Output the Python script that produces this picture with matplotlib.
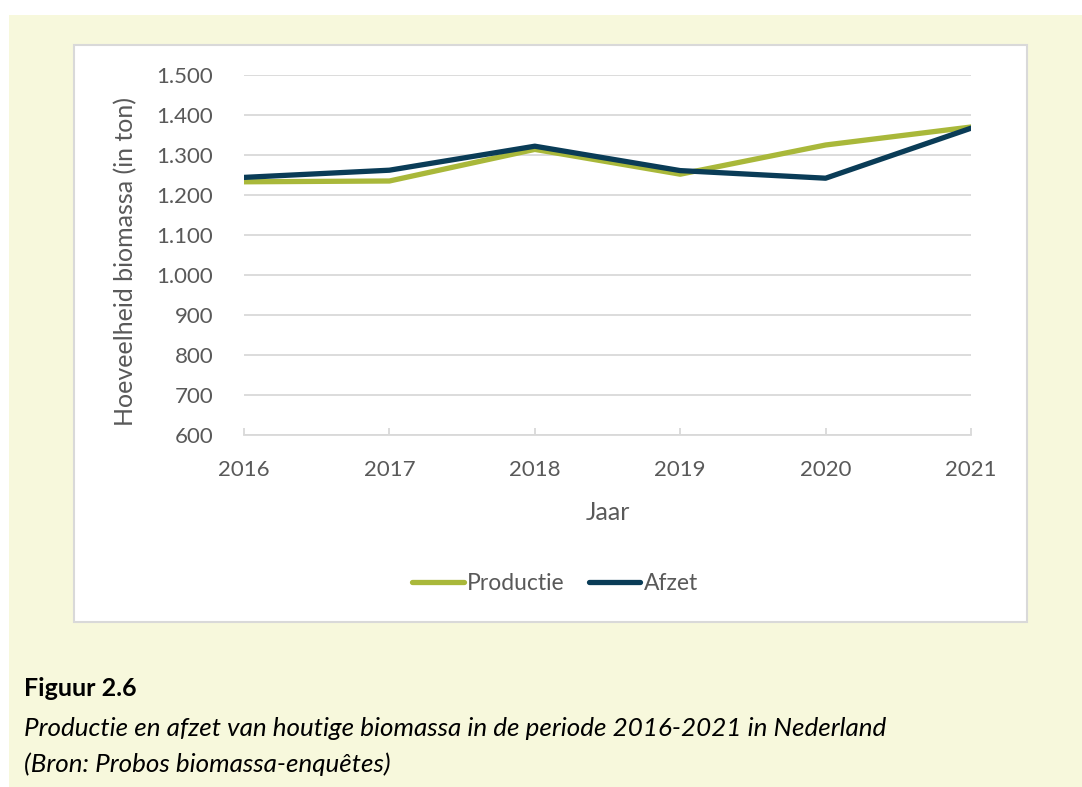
import matplotlib
matplotlib.use("Agg")
from matplotlib import pyplot as plt
from matplotlib.patches import Rectangle
from matplotlib.ticker import FuncFormatter

years = [2016, 2017, 2018, 2019, 2020, 2021]
productie = [1233, 1235, 1314, 1252, 1325, 1370]
afzet = [1244, 1262, 1322, 1261, 1242, 1367]

W, H = 1082, 787
fig = plt.figure(figsize=(W / 100, H / 100), dpi=100)
fig.patch.set_facecolor("white")

def px(x, y):
    return x / W, 1 - y / H

# pale yellow panel
x0, y0 = px(9, 787)
fig.patches.append(Rectangle((x0, y0), 1 - x0, 1 - 15 / H - y0,
                             transform=fig.transFigure, facecolor="#F7F8DC",
                             edgecolor="none", zorder=0))
# white chart box
bx0, by0 = px(74, 622)
fig.patches.append(Rectangle((bx0, by0), (1027 - 74) / W, (622 - 45) / H,
                             transform=fig.transFigure, facecolor="white",
                             edgecolor="#D9D9D9", linewidth=1.5, zorder=1))

gray = "#595959"
font = "Lato"

ax = fig.add_axes([244 / W, 1 - 435 / H, (971 - 244) / W, (435 - 75) / H])
ax.set_zorder(2)
ax.patch.set_alpha(0)

ax.plot(years, productie, color="#A9B83A", lw=3.8, label="Productie",
        solid_capstyle="round", solid_joinstyle="round")
ax.plot(years, afzet, color="#0A3C57", lw=3.8, label="Afzet",
        solid_capstyle="round", solid_joinstyle="round")

ax.set_xlim(2016, 2021)
ax.set_ylim(600, 1500)
ax.set_yticks(range(600, 1501, 100))
ax.set_xticks(years)
ax.yaxis.set_major_formatter(FuncFormatter(lambda v, p: f"{int(v):,}".replace(",", ".")))
ax.grid(axis="y", color="#D9D9D9", lw=1.3)
ax.set_axisbelow(True)
for s in ["top", "right", "left"]:
    ax.spines[s].set_visible(False)
ax.spines["bottom"].set_color("#D9D9D9")
ax.spines["bottom"].set_linewidth(1.3)
ax.tick_params(axis="y", length=0, pad=22, labelsize=16, labelcolor=gray)
ax.tick_params(axis="x", direction="in", length=5, width=1.3, color="#D9D9D9",
               pad=18, labelsize=16, labelcolor=gray)
for lab in ax.get_xticklabels() + ax.get_yticklabels():
    lab.set_fontfamily(font)

fig.text(126 / W, 1 - 262 / H, "Hoeveelheid biomassa (in ton)", fontsize=18,
         color=gray, fontfamily=font, rotation=90, ha="center", va="center")
ax.set_xlabel("Jaar", fontsize=18, color=gray, fontfamily=font, labelpad=15)

leg = ax.legend(loc="center", bbox_to_anchor=(555 / W, 1 - 584 / H),
                bbox_transform=fig.transFigure, ncol=2, frameon=False,
                handlelength=2.25, handletextpad=0.15, columnspacing=1.05,
                prop={"family": font, "size": 16.5})
for t in leg.get_texts():
    t.set_color(gray)

fig.text(24 / W, 1 - 688 / H, "Figuur 2.6", fontsize=18, fontweight="bold",
         fontfamily=font, color="black", va="center")
fig.text(24 / W, 1 - 728 / H,
         "Productie en afzet van houtige biomassa in de periode 2016-2021 in Nederland",
         fontsize=18.7, style="italic", fontfamily=font, color="black", va="center")
fig.text(24 / W, 1 - 764 / H, "(Bron: Probos biomassa-enquêtes)", fontsize=18.7,
         style="italic", fontfamily=font, color="black", va="center")

fig.savefig("out.png", dpi=100)
